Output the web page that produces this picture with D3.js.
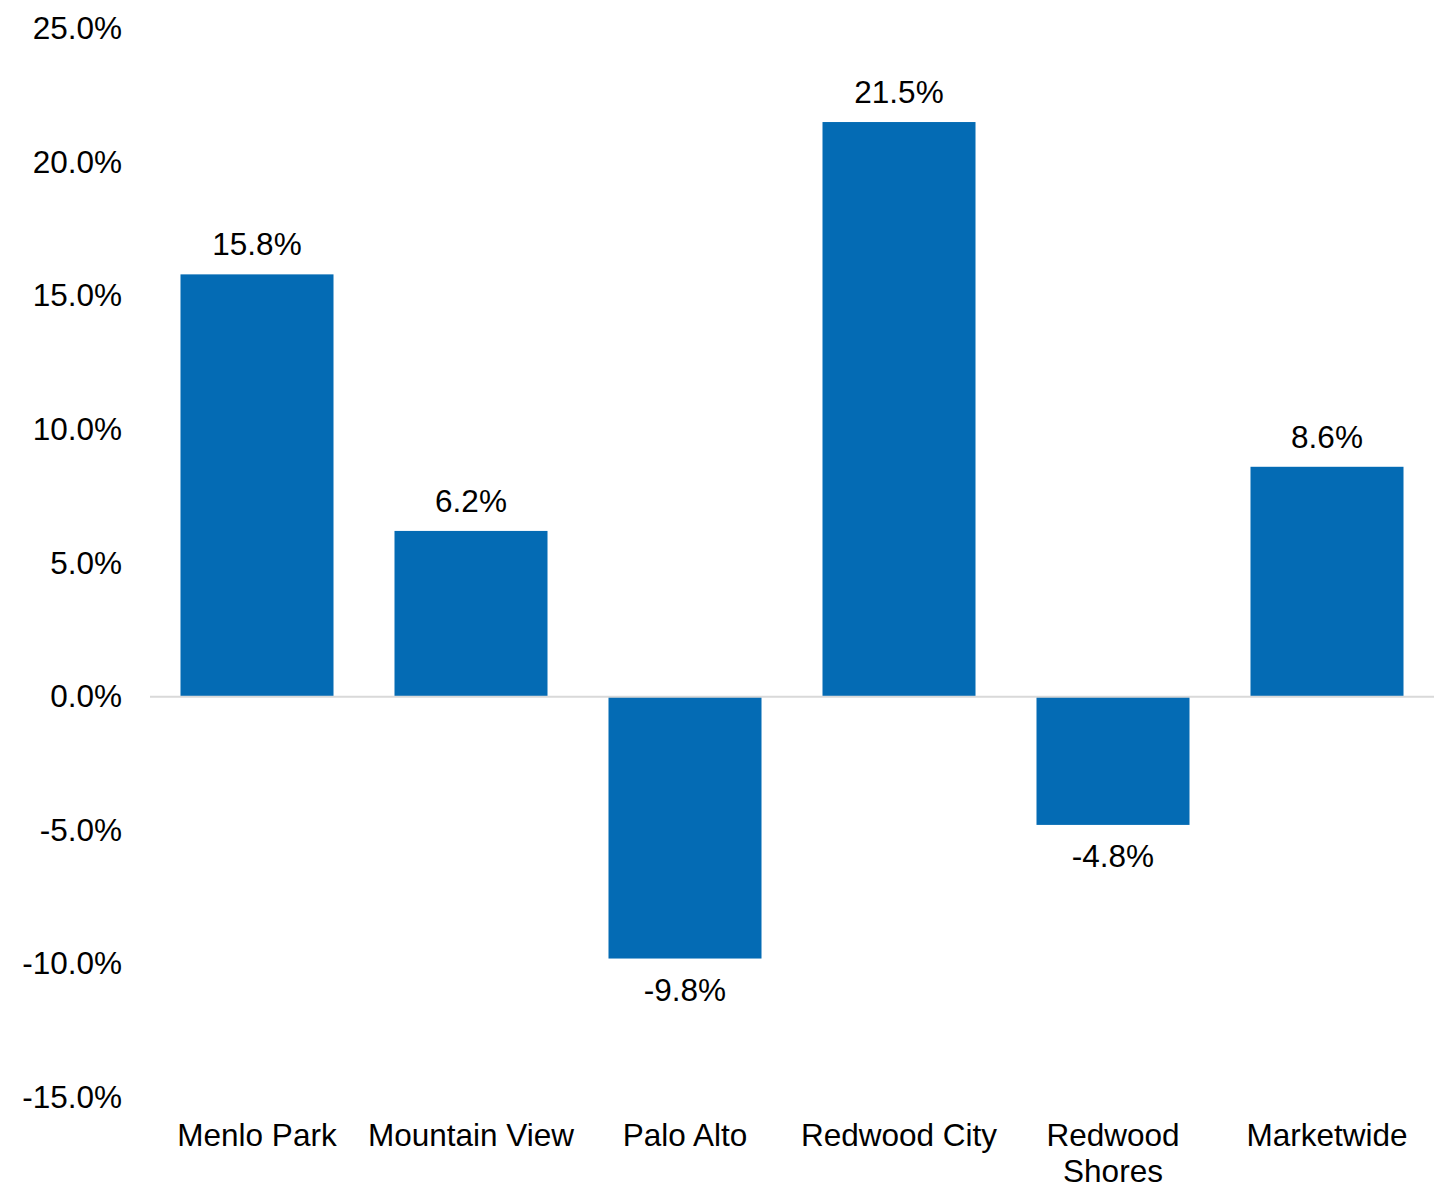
<!DOCTYPE html>
<html><head><meta charset="utf-8">
<script src="https://cdn.jsdelivr.net/npm/d3@7"></script>
<style>body{margin:0;background:#fff}svg{display:block}text{font-family:"Liberation Sans",Arial,sans-serif;fill:#000}</style>
</head><body>
<script>
const categories = [["Menlo Park"], ["Mountain View"], ["Palo Alto"], ["Redwood City"], ["Redwood", "Shores"], ["Marketwide"]];
const values = [15.8, 6.2, -9.8, 21.5, -4.8, 8.6];
const yTicks = [25, 20, 15, 10, 5, 0, -5, -10, -15];

const W = 1444, H = 1186;
const svg = d3.select("body").append("svg").attr("width", W).attr("height", H);
const keys = categories.map(c => c.join(" "));
const x = d3.scaleBand().domain(keys).range([150, 1434]).paddingInner(0.285).paddingOuter(0.1425);
const y = d3.scaleLinear().domain([-15, 25]).range([1097.5, 28.5]);
const fs = 31.5;

// y axis labels
const yAxis = d3.axisLeft(y).tickValues(yTicks).tickFormat(d => d.toFixed(1) + "%").tickSize(0).tickPadding(0);
const ga = svg.append("g").attr("transform", "translate(122,0)").call(yAxis);
ga.select(".domain").remove();
ga.selectAll("text").attr("font-size", fs).attr("font-family", '"Liberation Sans",Arial,sans-serif').attr("fill", "#000");

// bars
svg.selectAll("rect.bar").data(values).join("rect").attr("class", "bar")
  .attr("x", (d, i) => x(keys[i]))
  .attr("width", x.bandwidth())
  .attr("y", d => y(Math.max(0, d)))
  .attr("height", d => Math.abs(y(d) - y(0)))
  .attr("fill", "#046BB4");

// zero line
svg.append("line").attr("x1", 150).attr("x2", 1434).attr("y1", y(0)).attr("y2", y(0))
  .attr("stroke", "#d9d9d9").attr("stroke-width", 2);

// value labels
svg.selectAll("text.val").data(values).join("text").attr("class", "val")
  .attr("x", (d, i) => x(keys[i]) + x.bandwidth() / 2)
  .attr("y", d => d >= 0 ? y(d) - 19 : y(d) + 42)
  .attr("text-anchor", "middle").attr("font-size", fs)
  .text(d => d.toFixed(1) + "%");

// category labels
categories.forEach((lines, i) => {
  const t = svg.append("text").attr("text-anchor", "middle").attr("font-size", fs)
    .attr("x", x(keys[i]) + x.bandwidth() / 2).attr("y", 1146);
  lines.forEach((l, j) => t.append("tspan").attr("x", x(keys[i]) + x.bandwidth() / 2).attr("dy", j === 0 ? 0 : 36).text(l));
});
</script>
</body></html>
